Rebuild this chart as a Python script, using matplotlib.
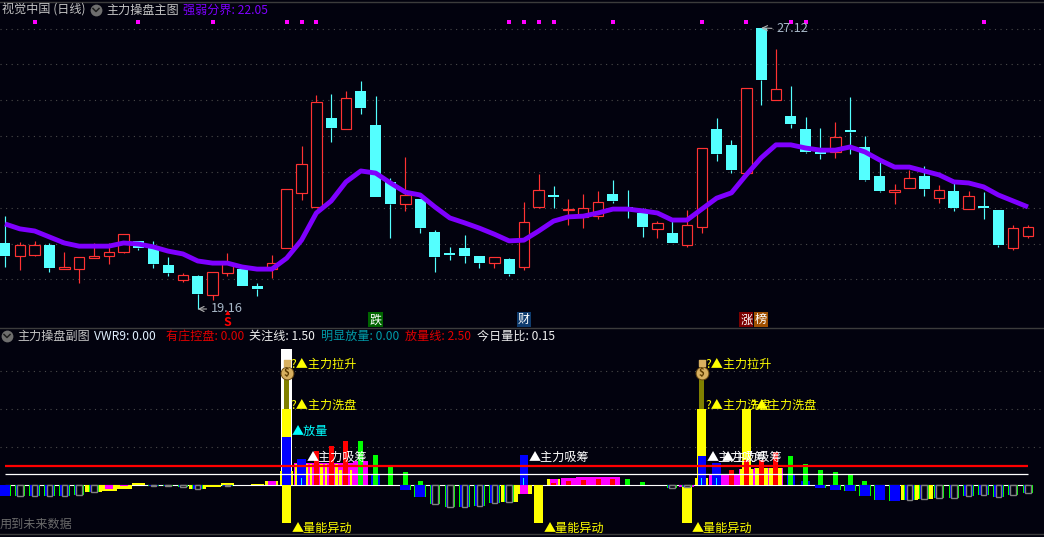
import numpy as np
import matplotlib
matplotlib.use('Agg')
import matplotlib.pyplot as plt
from matplotlib.lines import Line2D

plt.rcParams['font.family'] = ['Noto Sans CJK SC', 'DejaVu Sans']

# daily candles, prices
opens = [21.03, 20.66, 20.69, 20.97, 20.29, 20.29, 20.60, 20.66, 20.77, 21.09,
         20.89, 20.41, 19.98, 20.09, 19.56, 20.18, 20.29, 19.81, 20.29, 20.89,
         22.45, 22.05, 24.57, 24.26, 25.34, 24.37, 22.76, 22.13, 22.28, 21.34,
         20.75, 20.89, 20.66, 20.46, 20.58, 20.35, 22.05, 22.39, 21.96, 21.77,
         21.79, 22.42, 22.05, 21.88, 21.43, 21.31, 20.97, 21.48, 24.26, 23.81,
         23.01, 27.12, 25.08, 24.63, 24.26, 23.61, 23.61, 24.23, 23.75, 22.93,
         22.47, 22.59, 22.93, 22.30, 22.50, 21.99, 22.08, 21.96, 20.89, 21.23]
closes = [20.66, 20.97, 20.97, 20.32, 20.35, 20.63, 20.66, 20.77, 21.28, 20.89,
          20.43, 20.18, 20.12, 19.58, 20.21, 20.46, 19.81, 19.73, 20.46, 22.56,
          23.27, 25.02, 24.29, 25.14, 24.85, 22.33, 22.13, 22.39, 21.45, 20.63,
          20.69, 20.66, 20.46, 20.63, 20.15, 21.62, 22.53, 22.33, 21.99, 22.02,
          22.19, 22.22, 21.99, 21.48, 21.60, 21.03, 21.54, 23.72, 23.55, 23.10,
          25.42, 25.65, 25.39, 24.40, 23.61, 23.55, 24.03, 24.17, 22.81, 22.50,
          22.53, 22.87, 22.56, 22.53, 22.02, 22.36, 22.02, 20.97, 21.45, 21.48]
highs = [21.79, 21.06, 21.09, 21.03, 20.77, 20.63, 21.03, 21.03, 21.28, 21.09,
         21.09, 20.63, 20.18, 20.12, 20.21, 20.75, 20.35, 19.90, 20.69, 22.56,
         23.78, 25.22, 25.25, 25.34, 25.62, 25.19, 22.87, 23.46, 22.28, 21.40,
         20.92, 21.26, 20.66, 20.63, 20.60, 22.19, 22.98, 22.64, 22.28, 22.42,
         22.50, 22.81, 22.53, 22.02, 21.65, 21.65, 21.96, 23.72, 24.57, 23.95,
         25.42, 27.12, 26.52, 25.48, 24.60, 24.29, 24.46, 25.16, 24.06, 23.32,
         22.70, 23.10, 23.21, 22.67, 22.73, 22.50, 22.47, 21.96, 21.54, 21.54]
lows = [20.35, 20.26, 20.66, 20.21, 20.29, 19.90, 20.60, 20.43, 20.75, 20.83,
        20.32, 20.09, 19.92, 19.16, 19.41, 20.09, 19.81, 19.53, 20.04, 20.89,
        22.25, 22.05, 23.89, 24.26, 24.68, 22.33, 21.17, 21.94, 21.31, 20.21,
        20.55, 20.46, 20.32, 20.32, 20.09, 20.26, 22.02, 22.02, 21.54, 21.45,
        21.71, 22.16, 21.74, 21.20, 21.17, 21.03, 20.92, 21.31, 23.35, 23.01,
        23.01, 24.94, 25.08, 24.29, 23.58, 23.41, 23.44, 23.55, 22.79, 22.47,
        22.13, 22.59, 22.36, 22.16, 21.94, 21.99, 21.71, 20.92, 20.83, 21.17]

# 强弱分界 line
strength = [21.57, 21.43, 21.37, 21.20, 21.03, 20.94, 20.94, 20.94, 21.03, 21.00,
            20.92, 20.80, 20.72, 20.52, 20.46, 20.46, 20.35, 20.29, 20.29, 20.60,
            21.11, 21.88, 22.22, 22.76, 23.07, 23.01, 22.73, 22.47, 22.39, 22.05,
            21.74, 21.60, 21.45, 21.28, 21.09, 21.11, 21.37, 21.65, 21.77, 21.79,
            21.88, 21.99, 21.99, 21.94, 21.88, 21.68, 21.68, 21.99, 22.30, 22.45,
            22.96, 23.44, 23.81, 23.81, 23.72, 23.66, 23.66, 23.75, 23.61, 23.38,
            23.18, 23.18, 23.07, 22.96, 22.76, 22.73, 22.62, 22.39, 22.22, 22.05]

grid_prices = [27.10, 26.09, 25.08, 24.06, 23.04, 22.02, 21.01, 20.01]
signal_days = [2, 9, 14, 19, 20, 21, 34, 35, 36, 37, 41, 47, 50, 53, 54, 66]
signal_level = 27.28

# lower panel series, each as days + values
white_days = [19]
white_vals = [17.9]
olive_days = [19, 47]
olive_vals = [14, 14]
spike_days = [19, 47, 50, 19, 36, 46]
spike_vals = [10, 10, 10, -5, -5, -5]

stripe_up_days = [9, 10, 15, 16, 17, 18, 19, 20, 21, 22, 23, 37, 47, 50, 51, 52]
stripe_up_vals = [0.2, 0.05, 0.2, 0.05, 0.1, 0.5, 1.85, 2.7, 2.7, 2.7, 2.0, 0.8, 0.9, 2.1, 2.3, 2.2]
stripe_down_days = [6, 7, 8, 13, 14, 34, 35, 61, 62]
stripe_down_vals = [-0.9, -0.85, -0.55, -0.5, -0.3, -2.2, -1.2, -2.0, -1.85]
wide_pink_days = [14, 20, 21, 22, 23, 24, 38, 39, 40, 41, 46, 48, 49, 50, 51, 52]
wide_pink_vals = [-0.25, 2.9, 2.9, 2.9, 2.9, 3.2, 0.9, 1.05, 1.05, 1.05, -0.25, 1.45, 1.45, 2.1, 2.3, 2.2]
pink_days = [7, 8, 18, 19, 20, 21, 22, 23, 35, 37, 47]
pink_vals = [-0.5, -0.1, 0.5, 1.85, 2.9, 2.9, 2.9, 2.9, -1.2, 0.8, 0.9]

shrink_days = [1, 2, 3, 4, 5, 6, 10, 11, 12, 13, 15, 29, 30, 31, 32, 33, 34, 45, 46,
               61, 62, 63, 64, 65, 66, 67, 68, 69]
shrink_vals = [-1.5, -1.4, -1.5, -1.5, -1.3, -0.95, -0.1, -0.15, -0.2, -0.5, -0.1,
               -2.5, -2.85, -2.85, -2.7, -2.4, -2.2, -0.35, -0.25,
               -2.0, -1.85, -1.7, -1.7, -1.45, -1.3, -1.6, -1.3, -1.05]
fall_days = [0, 27, 28, 55, 56, 57, 58, 59, 60]
fall_vals = [-1.45, -0.65, -1.6, -0.4, -0.65, -0.8, -1.45, -2.0, -2.1]
blue_days = [19, 20, 25, 35, 47, 48, 53, 54]
blue_vals = [6.3, 3.4, 1.5, 3.9, 3.8, 2.9, 1.45, 0.5]
red_days = [21, 22, 23, 37, 38, 39, 40, 41, 49, 50, 51, 52]
red_vals = [4.5, 5.1, 5.8, 0.25, 0.5, 0.65, 0.8, 0.85, 2.0, 3.3, 3.3, 4.4]
green_days = [24, 25, 26, 27, 28, 42, 43, 53, 54, 55, 56, 57, 58]
green_vals = [5.8, 3.9, 2.4, 1.7, 0.5, 0.8, 0.4, 3.8, 2.8, 2.0, 1.7, 1.45, 0.5]
tick_days = [20, 35, 47, 48]
tick_vals = [0.9, 0.9, 0.9, 0.9]

watch_line = 1.50
volume_line = 2.50
lower_grid = [5, 10, 15]

pull_days = [19, 47]
wash_days = [19, 47, 50]
absorb_days = [20, 35, 47, 48]
abnormal_days = [19, 36, 46]

W, H = 1044, 537
BG = '#02020e'
RED = '#ff3232'
CYAN = '#54ffff'
PURPLE = '#7f00ff'
YELLOW = '#ffff00'
PINK = '#ff00ff'
FS = 8.7
DAY = 14.826  # pixels per day


def fx(x):
    return x / W


def fy(y):
    return 1 - y / H


fig = plt.figure(figsize=(W / 100, H / 100), dpi=100, facecolor=BG)
ax = fig.add_axes([0, fy(327), 1, 327 / H], facecolor=BG)
ax2 = fig.add_axes([0, 0, 1, fy(327)], facecolor=BG)
for a in (ax, ax2):
    a.set_xlim(-0.337, 70.08)
    a.set_xticks([])
    a.set_yticks([])
    for s in a.spines.values():
        s.set_visible(False)
ax.set_ylim(18.65, 27.913)
ax2.set_ylim(-6.84, 20.79)

# main panel
days = np.arange(len(opens))
o = np.array(opens)
c = np.array(closes)
top = np.maximum(o, c)
bot = np.minimum(o, c)
up = c >= o
dot = (0, (1, 4))
ax.hlines(grid_prices, -0.337, 70.08, color='#4a4a4a', lw=0.8, linestyle=dot, zorder=1)

colors = np.where(up, RED, CYAN)
ax.vlines(days, top, highs, color=colors, lw=0.85, zorder=2)
ax.vlines(days, lows, bot, color=colors, lw=0.85, zorder=2)
ax.bar(days[up], (top - bot)[up], bottom=bot[up], width=10.5 / DAY, facecolor=BG,
       edgecolor=RED, lw=0.85, zorder=3)
ax.bar(days[~up], (top - bot)[~up], bottom=bot[~up], width=11 / DAY, color=CYAN, zorder=3)
ax.plot(days, strength, color=PURPLE, lw=3.5, zorder=4, solid_capstyle='butt')
ax.scatter(signal_days, [signal_level] * len(signal_days), marker='s', s=5, color=PINK, lw=0, zorder=4)

ax.annotate('19.16', xy=(13, 19.16), xytext=(13, 0), textcoords='offset pixels',
            color='#a8b8c8', fontsize=9.2, va='center', zorder=5,
            arrowprops=dict(arrowstyle='->', color='#b0b0b0', lw=0.8, shrinkA=1, shrinkB=0))
ax.annotate('27.12', xy=(51, 27.12), xytext=(15, -1), textcoords='offset pixels',
            color='#a8b8c8', fontsize=9.2, va='center', zorder=5,
            arrowprops=dict(arrowstyle='->', color='#b0b0b0', lw=0.8, shrinkA=1, shrinkB=0))

ax.text(15, 18.78, 'S', color='#ff0000', fontsize=9, fontweight='bold', ha='center', va='center', zorder=5)
ax.text(15, 19.02, '▲', color='#ff0000', fontsize=4, ha='center', va='center', zorder=5)
for day, tag, col in [(25, '跌', '#006400'), (35, '财', '#0f3c6e'), (50, '涨', '#7a0000'), (51, '榜', '#a05000')]:
    ax.text(day, 18.85, tag, color='white', fontsize=FS, ha='center', va='center', zorder=5,
            bbox=dict(facecolor=col, edgecolor='none', pad=0.8))

# lower panel
ax2.hlines(lower_grid, -0.337, 70.08, color='#4a4a4a', lw=0.8, linestyle=dot, zorder=1)
ax2.hlines(0, 0, 69, color='white', lw=0.8, zorder=1.5)
ax2.bar(white_days, white_vals, width=11.5 / DAY, color='white', zorder=2)
ax2.bar(olive_days, olive_vals, width=5 / DAY, color='#808000', zorder=2.1)
ax2.bar(wide_pink_days, wide_pink_vals, width=15 / DAY, color=PINK, zorder=2.15)
ax2.bar(stripe_up_days, stripe_up_vals, width=13 / DAY, color=YELLOW, zorder=2.2)
ax2.bar(stripe_down_days, stripe_down_vals, width=17 / DAY, color=YELLOW, zorder=2.2)
ax2.bar(pink_days, pink_vals, width=8 / DAY, color=PINK, zorder=2.4)
ax2.bar(spike_days, spike_vals, width=9.3 / DAY, color=YELLOW, zorder=2.5)
ax2.bar(fall_days, fall_vals, width=11.5 / DAY, color='#00ff00', zorder=2.6)
ax2.bar(fall_days, fall_vals, width=10 / DAY, color='#0000ff', zorder=2.7)
ax2.bar(shrink_days, shrink_vals, width=10.5 / DAY, color='#00ff00', zorder=2.6)
ax2.bar(shrink_days, shrink_vals, width=8.5 / DAY, color='#0000ff', zorder=2.7)
ax2.bar(shrink_days, shrink_vals, width=5.5 / DAY, facecolor=BG, edgecolor='#808080', lw=1.0, zorder=2.8)
ax2.bar(blue_days, blue_vals, width=8.5 / DAY, color='#0000ff', zorder=2.9)
ax2.bar(red_days, red_vals, width=5 / DAY, color='#ff0000', zorder=3)
ax2.bar(green_days, green_vals, width=5 / DAY, color='#00ff00', zorder=3)
ax2.bar(tick_days, tick_vals, width=1 / DAY, color='#00ffff', zorder=3.1)

ax2.hlines(volume_line, 0, 69, color='#ff0000', lw=1.6, zorder=4)
ax2.hlines(watch_line, 0, 69, color='white', lw=0.9, zorder=4)

# money bags on the two pull days
ax2.scatter(pull_days, [14.8, 14.8], s=85, color='#d8b060', edgecolor='#6a4a10', lw=0.7, zorder=5)
ax2.scatter(pull_days, [16.0, 16.0], s=14, marker='s', color='#d8b060', zorder=5)
for day in pull_days:
    ax2.text(day, 14.8, '$', color='#5a3a00', fontsize=7, fontweight='bold', ha='center', va='center',
             parse_math=False, zorder=6)


def label(day, val, txt, col, dx=5):
    ax2.annotate(txt, xy=(day, val), xytext=(dx, 0), textcoords='offset pixels', color=col,
                 fontsize=FS, va='center', ha='left', zorder=7)


for day in pull_days:
    label(day, 15.9, '?▲主力拉升', YELLOW, dx=4)
for day in wash_days:
    label(day, 10.5, '?▲主力洗盘', YELLOW, dx=4)
label(19, 7.0, '▲放量', '#00ffff')
for day in absorb_days:
    label(day, 3.6, '▲主力吸筹', 'white')
for day in abnormal_days:
    label(day, -5.7, '▲量能异动', YELLOW)

# header text and chrome, placed in figure pixels
for y in (1.7, 327.5, 534):
    fig.add_artist(Line2D([0, 1], [fy(y), fy(y)], color='#3c3c3c', lw=1, transform=fig.transFigure))


def head(x, y, txt, col):
    fig.text(fx(x), fy(y), txt, color=col, fontsize=FS, va='center', ha='left', zorder=8)


def chevron(x, y):
    fig.add_artist(Line2D([fx(x)], [fy(y)], marker='o', ms=8.5, color='#6e6e6e', mew=0,
                          transform=fig.transFigure))
    fig.add_artist(Line2D([fx(x - 3), fx(x), fx(x + 3)], [fy(y - 1.5), fy(y + 1.5), fy(y - 1.5)],
                          color='#1c1c1c', lw=1.1, transform=fig.transFigure))


head(2, 10, '视觉中国 (日线)', '#c4c4c4')
chevron(96, 10)
head(106, 10, '主力操盘主图', '#c4c4c4')
head(183, 10, '强弱分界: 22.05', PURPLE)

chevron(7, 336)
head(17, 336, '主力操盘副图', '#c4c4c4')
head(94, 336, 'VWR9: 0.00', '#e0f0ff')
head(166, 336, '有庄控盘: 0.00', '#e00000')
head(249, 336, '关注线: 1.50', '#f0f0f0')
head(321, 336, '明显放量: 0.00', '#009aa8')
head(405, 336, '放量线: 2.50', '#e00000')
head(477, 336, '今日量比: 0.15', '#f0f0f0')
head(0, 524, '用到未来数据', '#6a6a6a')

fig.savefig('out.png', dpi=100, facecolor=BG)
